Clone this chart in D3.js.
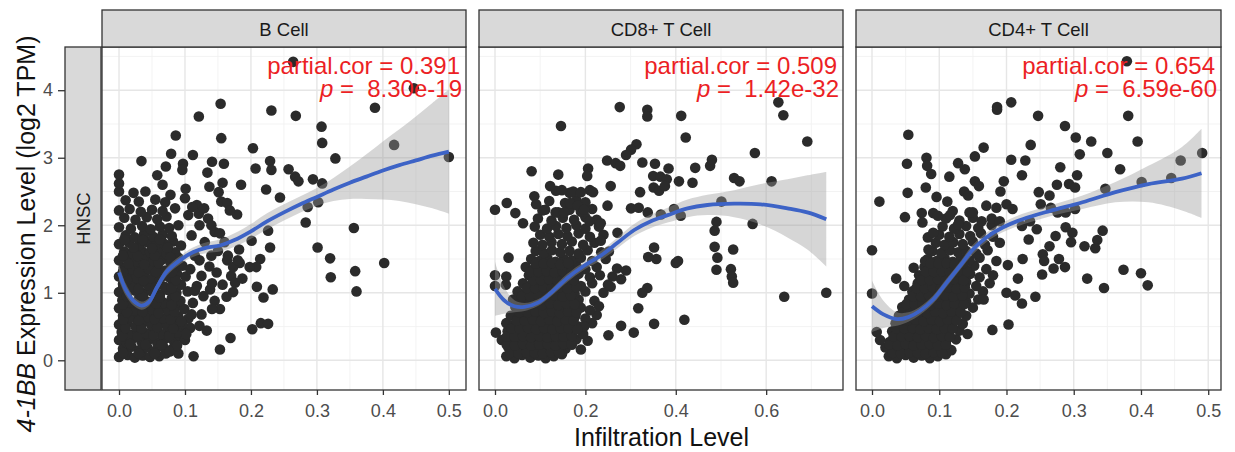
<!DOCTYPE html>
<html><head><meta charset="utf-8">
<script src="https://cdn.jsdelivr.net/npm/d3@7"></script>
<style>
body{margin:0;background:#fff}
svg{display:block}
text{font-family:"Liberation Sans",Arial,Helvetica,sans-serif}
</style>
</head><body>
<svg id="chart" width="1235" height="452"></svg>
<script>
// ---------------- DATA ----------------
const cancerType = "HNSC";
const cellTypes = ["B Cell", "CD8+ T Cell", "CD4+ T Cell"];
const partialCor = ["0.391", "0.509", "0.654"];
const pValues = ["8.30e-19", "1.42e-32", "6.59e-60"];
const yTicks = [0, 1, 2, 3, 4];
const xTicksB = [0, 0.1, 0.2, 0.3, 0.4, 0.5];
const xTicksCD8 = [0, 0.2, 0.4, 0.6];
const xTicksCD4 = [0, 0.1, 0.2, 0.3, 0.4, 0.5];

// B cell scatter (infiltration, expression)
const bCellPts = [
[0,0.05],[0.013,0.08],[0.024,0.04],[0.036,0.07],[0.047,0.05],[0.061,0.06],[0.071,0.1],
[0.006,0.17],[0.019,0.2],[0.031,0.15],[0.043,0.19],[0.055,0.14],[0.067,0.2],[0.081,0.17],
[0,0.3],[0.011,0.27],[0.022,0.33],[0.034,0.28],[0.046,0.31],[0.058,0.26],[0.07,0.32],[0.083,0.29],[0.094,0.35],
[0.004,0.42],[0.016,0.38],[0.028,0.44],[0.041,0.4],[0.052,0.45],[0.064,0.39],[0.077,0.43],[0.088,0.41],
[0,0.53],[0.012,0.55],[0.025,0.5],[0.036,0.56],[0.049,0.52],[0.06,0.57],[0.072,0.51],[0.085,0.54],[0.097,0.5],
[0.006,0.66],[0.018,0.63],[0.03,0.68],[0.043,0.64],[0.054,0.69],[0.066,0.62],[0.079,0.67],[0.09,0.65],
[0,0.77],[0.012,0.79],[0.024,0.74],[0.037,0.8],[0.05,0.75],[0.062,0.78],[0.074,0.73],[0.086,0.79],[0.099,0.76],
[0.005,0.89],[0.018,0.86],[0.03,0.91],[0.043,0.87],[0.056,0.9],[0.068,0.85],[0.08,0.92],[0.093,0.88],
[0,1.01],[0.012,0.98],[0.025,1.03],[0.037,0.99],[0.05,1.02],[0.062,0.97],[0.074,1.04],[0.087,1.0],[0.104,1.02],
[0.006,1.13],[0.019,1.1],[0.031,1.15],[0.044,1.11],[0.057,1.14],[0.069,1.09],[0.082,1.16],[0.094,1.12],
[0,1.24],[0.013,1.27],[0.026,1.22],[0.038,1.26],[0.05,1.21],[0.063,1.25],[0.076,1.23],[0.088,1.28],[0.101,1.24],
[0.007,1.37],[0.02,1.34],[0.032,1.39],[0.045,1.35],[0.058,1.38],[0.07,1.33],[0.083,1.36],[0.096,1.4],
[0,1.48],[0.014,1.5],[0.027,1.46],[0.04,1.51],[0.052,1.47],[0.065,1.49],[0.078,1.45],[0.09,1.52],
[0.008,1.61],[0.021,1.58],[0.034,1.63],[0.047,1.6],[0.06,1.62],[0.072,1.57],[0.085,1.6],
[0,1.72],[0.015,1.74],[0.03,1.7],[0.043,1.75],[0.056,1.71],[0.068,1.73],[0.082,1.76],[0.094,1.7],
[0.01,1.85],[0.024,1.82],[0.038,1.87],[0.052,1.83],[0.066,1.86],[0.08,1.84],
[0,1.97],[0.018,1.95],[0.035,1.99],[0.048,1.94],[0.062,1.98],[0.076,1.96],[0.09,2.0],
[0.008,2.11],[0.025,2.08],[0.042,2.12],[0.058,2.09],[0.072,2.13],
[0,2.22],[0.016,2.24],[0.033,2.2],[0.05,2.23],[0.066,2.21],[0.085,2.25],
[0.01,2.37],[0.03,2.35],[0.055,2.38],[0.07,2.34],
[0,2.5],[0.022,2.48],[0.04,2.5],[0.078,2.45],[0,2.62],[0,2.75],
[0.105,0.62],[0.112,0.85],[0.118,1.1],[0.108,1.35],[0.125,1.25],[0.115,1.55],[0.13,1.75],[0.11,1.85],
[0.122,2.0],[0.105,2.15],[0.135,2.1],[0.145,1.9],[0.14,1.55],[0.148,1.3],[0.128,0.95],[0.138,1.05],
[0.15,1.62],[0.16,1.75],[0.165,1.55],[0.155,2.35],[0.1,2.4],[0.118,2.3],[0.145,0.88],[0.17,1.25],
[0.176,1.15],[0.1,0.3],[0.108,0.48],[0.09,0.1],[0.085,0.2],
[0.264,4.42],[0.447,4.03],[0.388,3.74],[0.154,3.8],[0.121,3.61],[0.231,3.7],[0.268,3.62],[0.307,3.46],
[0.308,3.22],[0.155,3.29],[0.086,3.33],[0.417,3.19],[0.5,3.01],[0.203,3.14],[0.328,2.99],[0.034,2.95],
[0.079,3.06],[0.112,3.04],[0.141,2.94],[0.159,2.91],[0.229,2.95],[0.097,2.91],[0.071,2.87],[0.207,2.84],
[0.257,2.83],[0.231,2.82],[0.267,2.72],[0.272,2.65],[0.294,2.68],[0.308,2.62],[0.134,2.78],[0.096,2.82],
[0.058,2.74],[0.157,2.63],[0.185,2.6],[0.137,2.57],[0.223,2.53],[0.101,2.54],[0.151,2.49],[0.066,2.6],
[0.244,2.41],[0.286,2.27],[0.302,2.34],[0.283,2.04],[0.356,1.96],[0.301,1.67],[0.32,1.51],[0.402,1.44],
[0.358,1.32],[0.321,1.23],[0.36,1.02],[0.226,1.92],[0.229,1.67],[0.214,1.5],[0.208,1.38],[0.198,1.38],
[0.209,1.09],[0.233,1.05],[0.219,0.93],[0.202,0.46],[0.215,0.55],[0.226,0.54],[0.169,0.33],[0.153,0.16],
[0.113,0.06],[0.182,1.64],[0.179,2.16],[0.164,2.33],[0.168,2.22],[0.201,1.77],[0.183,1.44],[0.187,1.21],
[0.157,1.12],[0.173,1.01],[0.163,0.94],[0.153,0.76],[0.141,0.76],[0.133,0.44],[0.122,0.51],[0.137,1.39],
[0.141,1.14],[0.122,1.48],[0.125,0.68],[0.11,0.68],[0.115,1.03],[0.102,0.39],[0.096,0.54],[0.111,2.27],
[0.121,2.17],[0.129,2.25],[0.14,2.0],[0.153,1.88],[0.164,1.48],[0.173,1.38],[0.18,1.48]
];
const bCellCore = [
[0.006,0.11],[0.03,0.1],[0.054,0.1],[0.077,0.13],
[0.017,0.24],[0.04,0.23],[0.064,0.23],[0.088,0.22],
[0.005,0.36],[0.028,0.35],[0.052,0.37],[0.076,0.36],
[0.01,0.48],[0.034,0.47],[0.058,0.49],[0.082,0.47],
[0.006,0.6],[0.03,0.59],[0.054,0.61],[0.078,0.6],[0.094,0.58],
[0.012,0.71],[0.036,0.72],[0.06,0.7],[0.084,0.72],
[0.006,0.83],[0.03,0.82],[0.056,0.84],[0.08,0.82],
[0.012,0.95],[0.036,0.94],[0.062,0.93],[0.086,0.95],
[0.006,1.07],[0.03,1.06],[0.055,1.08],[0.08,1.07],
[0.012,1.19],[0.037,1.18],[0.062,1.2],[0.086,1.19],
[0.006,1.31],[0.03,1.3],[0.056,1.31],[0.08,1.3],
[0.014,1.43],[0.038,1.42],[0.06,1.44],[0.084,1.43],
[0.006,1.55],[0.028,1.54],[0.054,1.55],[0.078,1.53],
[0.022,1.67],[0.05,1.66],[0.074,1.67],
[0.008,1.79],[0.036,1.78],[0.062,1.79]
];
const bFitX  = [0,0.01,0.022,0.034,0.045,0.057,0.072,0.092,0.112,0.133,0.153,0.175,0.2,0.225,0.25,0.275,0.3,0.325,0.35,0.375,0.4,0.425,0.45,0.475,0.5];
const bFitY  = [1.30,1.05,0.88,0.81,0.86,1.07,1.31,1.48,1.60,1.67,1.70,1.78,1.91,2.06,2.19,2.31,2.42,2.53,2.63,2.72,2.81,2.89,2.96,3.03,3.09];
const bFitSE = [0.12,0.09,0.07,0.06,0.06,0.06,0.06,0.06,0.07,0.08,0.09,0.10,0.11,0.12,0.12,0.12,0.13,0.17,0.24,0.33,0.43,0.53,0.65,0.78,0.92];

// CD8+ T cell scatter
const cd8Pts = [
[0.025,0.06],[0.043,0.03],[0.06,0.08],[0.078,0.04],[0.096,0.07],[0.112,0.03],[0.13,0.06],[0.148,0.09],
[0.03,0.19],[0.049,0.15],[0.066,0.2],[0.084,0.16],[0.102,0.18],[0.121,0.14],[0.138,0.2],[0.156,0.17],[0.19,0.16],
[0.015,0.3],[0.035,0.27],[0.053,0.31],[0.071,0.28],[0.089,0.32],[0.107,0.27],[0.125,0.3],[0.143,0.33],[0.161,0.28],[0.18,0.31],[0.205,0.29],
[0.028,0.43],[0.046,0.39],[0.064,0.44],[0.082,0.4],[0.1,0.42],[0.118,0.38],[0.136,0.43],[0.154,0.4],[0.172,0.44],[0.195,0.39],
[0.025,0.55],[0.04,0.51],[0.058,0.54],[0.076,0.5],[0.094,0.56],[0.112,0.52],[0.13,0.55],[0.148,0.51],[0.166,0.54],[0.185,0.5],[0.215,0.55],
[0.035,0.66],[0.052,0.63],[0.07,0.67],[0.088,0.62],[0.106,0.66],[0.124,0.64],[0.142,0.68],[0.16,0.63],[0.178,0.66],[0.2,0.62],[0.225,0.67],
[0.045,0.79],[0.063,0.75],[0.081,0.78],[0.099,0.74],[0.117,0.79],[0.135,0.76],[0.153,0.8],[0.171,0.75],[0.19,0.78],[0.21,0.74],
[0.04,0.9],[0.058,0.87],[0.076,0.91],[0.094,0.86],[0.112,0.9],[0.13,0.88],[0.148,0.92],[0.166,0.87],[0.185,0.9],[0.22,0.88],
[0.05,1.02],[0.068,0.99],[0.086,1.03],[0.104,0.98],[0.122,1.02],[0.14,1.0],[0.158,1.04],[0.176,0.99],[0.2,1.02],[0.24,1.0],
[0.062,1.14],[0.08,1.1],[0.098,1.15],[0.116,1.11],[0.134,1.14],[0.152,1.12],[0.17,1.16],[0.19,1.1],[0.215,1.14],[0.25,1.12],
[0.075,1.26],[0.093,1.23],[0.111,1.27],[0.129,1.22],[0.147,1.26],[0.165,1.24],[0.185,1.28],[0.21,1.23],[0.232,1.26],[0.26,1.24],
[0.068,1.38],[0.086,1.35],[0.104,1.39],[0.122,1.34],[0.14,1.38],[0.158,1.36],[0.18,1.4],[0.2,1.35],[0.225,1.38],[0.27,1.36],
[0.08,1.5],[0.098,1.47],[0.116,1.51],[0.134,1.46],[0.152,1.5],[0.17,1.48],[0.19,1.52],[0.215,1.47],[0.245,1.5],
[0.09,1.62],[0.108,1.59],[0.126,1.63],[0.144,1.6],[0.165,1.62],[0.185,1.58],[0.205,1.63],[0.235,1.6],
[0.085,1.74],[0.105,1.71],[0.125,1.75],[0.148,1.72],[0.17,1.76],[0.195,1.71],[0.22,1.74],
[0.1,1.86],[0.12,1.83],[0.14,1.87],[0.16,1.84],[0.185,1.88],[0.21,1.83],[0.24,1.86],
[0.088,1.98],[0.115,1.95],[0.135,1.99],[0.158,1.96],[0.18,2.0],[0.2,1.95],[0.23,1.98],
[0.095,2.1],[0.125,2.07],[0.15,2.11],[0.175,2.08],[0.2,2.12],[0.225,2.08],
[0.105,2.22],[0.14,2.19],[0.165,2.23],[0.19,2.2],[0.215,2.24],
[0.12,2.36],[0.155,2.33],[0.18,2.37],[0.2,2.34],[0.135,2.51],[0.165,2.48],[0.21,2.52],
[0.276,3.75],[0.337,3.71],[0.337,3.61],[0.412,3.62],[0.627,3.82],[0.638,3.63],[0.691,3.24],[0.146,3.47],
[0.422,3.3],[0.575,3.07],[0.313,3.2],[0.301,3.12],[0.29,3.04],[0.248,2.96],[0.267,2.92],[0.277,2.88],
[0.326,2.93],[0.354,2.91],[0.384,2.84],[0.443,2.85],[0.476,2.88],[0.48,2.97],[0.081,2.8],[0.14,2.75],
[0.206,2.84],[0.204,2.73],[0.35,2.73],[0.366,2.72],[0.38,2.68],[0.407,2.65],[0.437,2.63],[0.529,2.7],
[0.541,2.65],[0.612,2.65],[0.122,2.58],[0.148,2.52],[0.173,2.5],[0.19,2.49],[0.217,2.49],[0.256,2.58],
[0.321,2.49],[0.351,2.56],[0.363,2.51],[0.376,2.58],[0,2.23],[0.026,2.33],[0.045,2.18],[0.062,2.03],
[0.087,2.43],[0.091,2.31],[0.111,2.23],[0.134,2.19],[0.153,2.19],[0.166,2.33],[0.183,2.29],[0.197,2.23],
[0.209,2.06],[0.234,2.03],[0.249,2.29],[0.301,2.25],[0.318,2.26],[0.338,2.19],[0.367,2.16],[0.396,2.24],
[0.411,2.14],[0.49,2.05],[0.486,1.92],[0.57,2.02],[0.501,2.35],[0.486,1.68],[0.492,1.52],[0.527,1.64],
[0.49,1.34],[0.522,1.35],[0.524,1.24],[0.527,1.15],[0.64,0.94],[0.733,1.0],[0.4,1.44],[0.405,1.47],
[0.419,0.6],[0.352,0.54],[0.317,0.77],[0.337,1.07],[0.326,1.0],[0.357,1.5],[0.339,1.53],[0.352,1.67],
[0.271,1.89],[0.234,1.77],[0.252,1.61],[0.29,1.33],[0.279,1.2],[0.256,1.09],[0.23,0.8],[0.279,0.51],
[0.307,0.41],[0.251,0.37],[0.197,0.5],[0.147,0.11],[0.002,0.41],[0,1.26],[0.025,1.24],[0.03,1.52],
[0.024,1.12],[0,1.1]
];
const cd8Core = [
[0.034,0.11],[0.052,0.1],[0.07,0.12],[0.088,0.11],[0.106,0.1],[0.124,0.12],[0.142,0.11],
[0.026,0.23],[0.044,0.22],[0.062,0.24],[0.08,0.22],[0.098,0.23],[0.116,0.24],[0.134,0.22],[0.152,0.24],[0.17,0.23],
[0.026,0.35],[0.044,0.35],[0.062,0.36],[0.08,0.34],[0.098,0.36],[0.116,0.34],[0.134,0.36],[0.152,0.35],[0.17,0.36],
[0.037,0.47],[0.055,0.47],[0.073,0.48],[0.091,0.46],[0.109,0.48],[0.127,0.46],[0.145,0.48],[0.163,0.47],[0.182,0.46],
[0.048,0.59],[0.066,0.59],[0.084,0.6],[0.102,0.58],[0.12,0.6],[0.138,0.58],[0.156,0.6],[0.174,0.59],
[0.054,0.71],[0.072,0.71],[0.09,0.72],[0.108,0.7],[0.126,0.72],[0.144,0.7],[0.162,0.72],[0.18,0.71],
[0.05,0.83],[0.068,0.83],[0.086,0.84],[0.104,0.82],[0.122,0.84],[0.14,0.82],[0.158,0.84],[0.176,0.83],
[0.06,0.95],[0.078,0.95],[0.096,0.96],[0.114,0.94],[0.132,0.96],[0.15,0.94],[0.168,0.96],
[0.071,1.07],[0.089,1.07],[0.107,1.08],[0.125,1.06],[0.143,1.08],[0.161,1.06],[0.18,1.08],
[0.084,1.19],[0.102,1.19],[0.12,1.2],[0.138,1.18],[0.156,1.2],[0.175,1.19],
[0.078,1.31],[0.096,1.31],[0.114,1.32],[0.132,1.3],[0.15,1.32],[0.17,1.31],
[0.09,1.43],[0.108,1.43],[0.126,1.44],[0.144,1.42],[0.162,1.44]
];
const cd8FitX  = [0,0.02,0.043,0.065,0.094,0.124,0.16,0.197,0.234,0.271,0.308,0.345,0.382,0.426,0.47,0.529,0.588,0.647,0.691,0.733];
const cd8FitY  = [1.06,0.89,0.80,0.79,0.85,1.00,1.22,1.40,1.55,1.74,1.93,2.06,2.15,2.25,2.30,2.32,2.31,2.25,2.19,2.09];
const cd8FitSE = [0.40,0.20,0.09,0.06,0.05,0.05,0.06,0.06,0.07,0.08,0.09,0.10,0.11,0.13,0.15,0.20,0.30,0.43,0.55,0.70];

// CD4+ T cell scatter
const cd4Pts = [
[0.025,0.06],[0.037,0.03],[0.05,0.08],[0.062,0.04],[0.074,0.07],[0.086,0.03],[0.098,0.06],[0.11,0.09],
[0.02,0.19],[0.032,0.15],[0.044,0.2],[0.056,0.16],[0.068,0.18],[0.08,0.14],[0.092,0.2],[0.104,0.17],[0.118,0.15],
[0.012,0.3],[0.026,0.27],[0.038,0.31],[0.05,0.28],[0.062,0.32],[0.074,0.27],[0.086,0.3],[0.098,0.33],[0.11,0.28],[0.125,0.31],
[0.03,0.43],[0.042,0.39],[0.054,0.44],[0.066,0.4],[0.078,0.42],[0.09,0.38],[0.102,0.43],[0.114,0.4],[0.13,0.44],[0.142,0.39],
[0.035,0.55],[0.047,0.51],[0.059,0.54],[0.071,0.5],[0.083,0.56],[0.095,0.52],[0.107,0.55],[0.119,0.51],[0.135,0.54],
[0.04,0.66],[0.052,0.63],[0.064,0.67],[0.076,0.62],[0.088,0.66],[0.1,0.64],[0.112,0.68],[0.124,0.63],[0.14,0.66],
[0.045,0.79],[0.057,0.75],[0.069,0.78],[0.081,0.74],[0.093,0.79],[0.105,0.76],[0.117,0.8],[0.13,0.75],[0.15,0.78],
[0.055,0.9],[0.067,0.87],[0.079,0.91],[0.091,0.86],[0.103,0.9],[0.115,0.88],[0.127,0.92],[0.14,0.87],[0.158,0.9],
[0.06,1.02],[0.072,0.99],[0.084,1.03],[0.096,0.98],[0.108,1.02],[0.12,1.0],[0.132,1.04],[0.145,0.99],[0.165,1.02],
[0.068,1.14],[0.08,1.1],[0.092,1.15],[0.104,1.11],[0.116,1.14],[0.128,1.12],[0.14,1.16],[0.155,1.1],[0.175,1.14],
[0.07,1.26],[0.085,1.23],[0.097,1.27],[0.109,1.22],[0.121,1.26],[0.133,1.24],[0.146,1.28],[0.16,1.23],[0.18,1.26],
[0.078,1.38],[0.09,1.35],[0.102,1.39],[0.114,1.34],[0.126,1.38],[0.138,1.36],[0.152,1.4],[0.17,1.35],
[0.083,1.5],[0.096,1.47],[0.108,1.51],[0.12,1.46],[0.132,1.5],[0.145,1.48],[0.16,1.52],[0.185,1.47],
[0.09,1.62],[0.103,1.59],[0.116,1.63],[0.128,1.6],[0.14,1.62],[0.155,1.58],[0.172,1.63],
[0.095,1.74],[0.108,1.71],[0.121,1.75],[0.135,1.72],[0.15,1.76],[0.168,1.71],[0.19,1.74],
[0.1,1.86],[0.115,1.83],[0.13,1.87],[0.146,1.84],[0.162,1.88],[0.18,1.83],
[0.105,1.98],[0.122,1.95],[0.14,1.99],[0.158,1.96],[0.178,2.0],[0.11,2.1],[0.13,2.07],[0.15,2.11],
[0.12,2.21],[0.145,2.19],
[0.379,4.43],[0.207,3.82],[0.186,3.75],[0.186,3.71],[0.247,3.62],[0.381,3.62],[0.287,3.47],[0.054,3.34],
[0.303,3.3],[0.326,3.24],[0.395,3.24],[0.236,3.19],[0.166,3.15],[0.35,3.07],[0.309,3.05],[0.491,3.07],
[0.459,2.96],[0.153,3.02],[0.207,2.97],[0.228,2.96],[0.081,3.0],[0.052,2.91],[0.082,2.88],[0.088,2.76],
[0.128,2.92],[0.138,2.83],[0.115,2.72],[0.28,2.86],[0.369,2.83],[0.223,2.74],[0.305,2.74],[0.445,2.7],
[0.401,2.64],[0.347,2.54],[0.196,2.65],[0.153,2.65],[0.159,2.58],[0.08,2.56],[0.053,2.48],[0.011,2.35],
[0.275,2.6],[0.293,2.61],[0.302,2.56],[0.191,2.5],[0.248,2.49],[0.264,2.44],[0.096,2.42],[0.112,2.35],
[0.137,2.5],[0.143,2.44],[0.17,2.29],[0.185,2.26],[0.2,2.31],[0.209,2.24],[0.251,2.31],[0.266,2.26],
[0.276,2.19],[0.288,2.19],[0.302,2.24],[0.049,2.12],[0.074,2.18],[0.091,2.18],[0.075,2.04],[0.098,2.14],
[0.116,2.15],[0.128,2.01],[0.15,2.19],[0.163,2.06],[0.178,2.1],[0.19,2.06],[0.223,1.99],[0.235,2.06],
[0.245,1.94],[0.288,1.97],[0.298,1.89],[0.273,1.84],[0.343,1.92],[0.335,1.78],[0.332,1.66],[0.316,1.69],
[0.296,1.75],[0.264,1.69],[0.233,1.79],[0.254,1.57],[0.256,1.47],[0.253,1.27],[0.278,1.5],[0.287,1.38],
[0.27,1.36],[0.32,1.21],[0.345,1.07],[0.374,1.34],[0.4,1.29],[0.41,1.11],[0.243,0.94],[0.223,0.84],
[0.213,0.96],[0.217,1.21],[0.202,1.41],[0.224,1.5],[0.203,0.53],[0.179,0.45],[0.166,0.9],[0.2,1.0],
[0,1.63],[0,0.99],[0.007,0.42],[0.036,1.21],[0.048,1.1],[0.062,1.37],[0.079,1.47],[0.084,1.64],
[0.083,1.82],[0.091,1.89]
];
const cd4Core = [
[0.031,0.11],[0.043,0.1],[0.056,0.12],[0.068,0.11],[0.08,0.1],[0.092,0.12],[0.104,0.11],
[0.026,0.23],[0.038,0.22],[0.05,0.24],[0.062,0.22],[0.074,0.23],[0.086,0.24],[0.098,0.22],[0.11,0.23],
[0.032,0.35],[0.044,0.35],[0.056,0.36],[0.068,0.34],[0.08,0.36],[0.092,0.34],[0.104,0.36],[0.116,0.35],
[0.036,0.47],[0.048,0.47],[0.06,0.48],[0.072,0.46],[0.084,0.48],[0.096,0.46],[0.108,0.48],[0.12,0.47],
[0.041,0.59],[0.053,0.59],[0.065,0.6],[0.077,0.58],[0.089,0.6],[0.101,0.58],[0.113,0.6],[0.126,0.59],
[0.046,0.71],[0.058,0.71],[0.07,0.72],[0.082,0.7],[0.094,0.72],[0.106,0.7],[0.118,0.72],[0.132,0.71],
[0.051,0.83],[0.063,0.83],[0.075,0.84],[0.087,0.82],[0.099,0.84],[0.111,0.82],[0.123,0.84],[0.137,0.83],
[0.061,0.95],[0.073,0.95],[0.085,0.96],[0.097,0.94],[0.109,0.96],[0.121,0.94],[0.134,0.96],
[0.066,1.07],[0.078,1.07],[0.09,1.08],[0.102,1.06],[0.114,1.08],[0.126,1.06],[0.138,1.08],
[0.074,1.19],[0.086,1.19],[0.098,1.2],[0.11,1.18],[0.122,1.2],[0.136,1.18],
[0.08,1.31],[0.092,1.31],[0.104,1.32],[0.116,1.3],[0.128,1.32],[0.142,1.31],
[0.087,1.43],[0.099,1.43],[0.111,1.44],[0.123,1.42],[0.136,1.44]
];
const cd4FitX  = [0,0.017,0.037,0.054,0.071,0.091,0.111,0.131,0.15,0.17,0.195,0.224,0.264,0.313,0.362,0.411,0.461,0.49];
const cd4FitY  = [0.80,0.68,0.61,0.64,0.73,0.90,1.15,1.40,1.64,1.82,1.97,2.09,2.21,2.34,2.49,2.61,2.69,2.77];
const cd4FitSE = [0.38,0.20,0.10,0.07,0.06,0.06,0.06,0.06,0.07,0.07,0.07,0.08,0.08,0.10,0.15,0.27,0.47,0.66];

// ---------------- LAYOUT ----------------
const svg = d3.select("#chart");
const stripTop = 10, panelTop = 47, panelBottom = 390;
const yScale = d3.scaleLinear().domain([-0.44, 4.64]).range([panelBottom, panelTop]);
const fmt = d3.format(".1f");

const panels = [
  {name: cellTypes[0], pts: bCellPts.concat(bCellCore), fx: bFitX, fy: bFitY, se: bFitSE, cor: partialCor[0], p: pValues[0],
   ticks: xTicksB, left: 102, right: 466, dom: [-0.0258, 0.526]},
  {name: cellTypes[1], pts: cd8Pts.concat(cd8Core), fx: cd8FitX, fy: cd8FitY, se: cd8FitSE, cor: partialCor[1], p: pValues[1],
   ticks: xTicksCD8, left: 479, right: 843, dom: [-0.0354, 0.770]},
  {name: cellTypes[2], pts: cd4Pts.concat(cd4Core), fx: cd4FitX, fy: cd4FitY, se: cd4FitSE, cor: partialCor[2], p: pValues[2],
   ticks: xTicksCD4, left: 856, right: 1221, dom: [-0.0238, 0.519]}
];

function minorBreaks(ticks, dom) {
  const step = ticks[1] - ticks[0];
  const out = [];
  for (let i = -1; i < ticks.length; i++) {
    const v = (i < 0 ? ticks[0] - step : ticks[i]) + step / 2;
    if (v > dom[0] && v < dom[1]) out.push(v);
  }
  return out;
}
const yMinor = minorBreaks(yTicks, yScale.domain());

panels.forEach((pn, i) => {
  const x = d3.scaleLinear().domain(pn.dom).range([pn.left, pn.right]);
  const g = svg.append("g");
  const clipId = "clip" + i;
  svg.append("clipPath").attr("id", clipId).append("rect")
    .attr("x", pn.left).attr("y", panelTop).attr("width", pn.right - pn.left).attr("height", panelBottom - panelTop);

  g.append("rect").attr("x", pn.left).attr("y", panelTop).attr("width", pn.right - pn.left)
    .attr("height", panelBottom - panelTop).attr("fill", "#fff");

  // grid
  const grid = g.append("g");
  yMinor.forEach(v => grid.append("line").attr("x1", pn.left).attr("x2", pn.right)
    .attr("y1", yScale(v)).attr("y2", yScale(v)).attr("stroke", "#f2f2f2").attr("stroke-width", 0.9));
  minorBreaks(pn.ticks, pn.dom).forEach(v => grid.append("line").attr("y1", panelTop).attr("y2", panelBottom)
    .attr("x1", x(v)).attr("x2", x(v)).attr("stroke", "#f2f2f2").attr("stroke-width", 0.9));
  yTicks.forEach(v => grid.append("line").attr("x1", pn.left).attr("x2", pn.right)
    .attr("y1", yScale(v)).attr("y2", yScale(v)).attr("stroke", "#e6e6e6").attr("stroke-width", 1.4));
  pn.ticks.forEach(v => grid.append("line").attr("y1", panelTop).attr("y2", panelBottom)
    .attr("x1", x(v)).attr("x2", x(v)).attr("stroke", "#e6e6e6").attr("stroke-width", 1.4));

  const inner = g.append("g").attr("clip-path", `url(#${clipId})`);
  inner.selectAll("circle").data(pn.pts).join("circle")
    .attr("cx", d => x(d[0])).attr("cy", d => yScale(d[1])).attr("r", 5.3).attr("fill", "#2b2b2b");

  const fit = pn.fx.map((v, k) => ({x: v, y: pn.fy[k], se: pn.se[k]}));
  const area = d3.area().curve(d3.curveCatmullRom.alpha(0.5))
    .x(d => x(d.x)).y0(d => yScale(d.y - d.se)).y1(d => yScale(d.y + d.se));
  inner.append("path").datum(fit).attr("d", area).attr("fill", "#999999").attr("fill-opacity", 0.4);
  const line = d3.line().curve(d3.curveCatmullRom.alpha(0.5)).x(d => x(d.x)).y(d => yScale(d.y));
  inner.append("path").datum(fit).attr("d", line).attr("fill", "none")
    .attr("stroke", "#3d63c6").attr("stroke-width", 3.8);

  // annotation
  const tx = pn.right - 6;
  g.append("text").attr("x", tx).attr("y", 74).attr("text-anchor", "end")
    .attr("font-size", 24).attr("fill", "#ec1f25").text("partial.cor = " + pn.cor);
  const t2 = g.append("text").attr("x", tx + 2).attr("y", 96.5).attr("text-anchor", "end")
    .attr("font-size", 24).attr("fill", "#ec1f25").attr("xml:space", "preserve");
  t2.append("tspan").attr("font-style", "italic").text("p");
  t2.append("tspan").text(" =  " + pn.p);

  g.append("rect").attr("x", pn.left).attr("y", panelTop).attr("width", pn.right - pn.left)
    .attr("height", panelBottom - panelTop).attr("fill", "none").attr("stroke", "#333").attr("stroke-width", 1.3);

  // strip
  g.append("rect").attr("x", pn.left).attr("y", stripTop).attr("width", pn.right - pn.left)
    .attr("height", panelTop - stripTop).attr("fill", "#d9d9d9").attr("stroke", "#333").attr("stroke-width", 1.3);
  g.append("text").attr("x", (pn.left + pn.right) / 2).attr("y", 36).attr("text-anchor", "middle")
    .attr("font-size", 18.5).attr("fill", "#1a1a1a").text(pn.name);

  // x axis
  const xa = svg.append("g").attr("transform", `translate(0,${panelBottom})`)
    .call(d3.axisBottom(x).tickValues(pn.ticks).tickFormat(fmt).tickSize(5).tickPadding(9));
  xa.select(".domain").remove();
  xa.selectAll("line").attr("stroke", "#333").attr("stroke-width", 1.3);
  xa.selectAll("text").attr("font-size", 18).attr("fill", "#4d4d4d")
    .attr("font-family", "'Liberation Sans',Arial,sans-serif");
});

// row strip (HNSC)
svg.append("rect").attr("x", 65).attr("y", panelTop).attr("width", 36).attr("height", panelBottom - panelTop)
  .attr("fill", "#d9d9d9").attr("stroke", "#333").attr("stroke-width", 1.3);
svg.append("text").attr("transform", `translate(90,${(panelTop + panelBottom) / 2}) rotate(-90)`)
  .attr("text-anchor", "middle").attr("font-size", 18.5).attr("fill", "#1a1a1a").text(cancerType);

// y axis
const ya = svg.append("g").attr("transform", "translate(65,0)")
  .call(d3.axisLeft(yScale).tickValues(yTicks).tickFormat(d3.format("d")).tickSize(7).tickPadding(5));
ya.select(".domain").remove();
ya.selectAll("line").attr("stroke", "#333").attr("stroke-width", 1.3);
ya.selectAll("text").attr("font-size", 18).attr("fill", "#4d4d4d")
  .attr("font-family", "'Liberation Sans',Arial,sans-serif");

// axis titles
svg.append("text").attr("x", 661.5).attr("y", 446).attr("text-anchor", "middle")
  .attr("font-size", 25).attr("fill", "#111").text("Infiltration Level");
const yt = svg.append("text").attr("transform", "translate(35,234) rotate(-90)")
  .attr("text-anchor", "middle").attr("font-size", 25).attr("fill", "#111");
yt.append("tspan").attr("font-style", "italic").text("4-1BB");
yt.append("tspan").text(" Expression Level (log2 TPM)");
</script>
</body></html>
